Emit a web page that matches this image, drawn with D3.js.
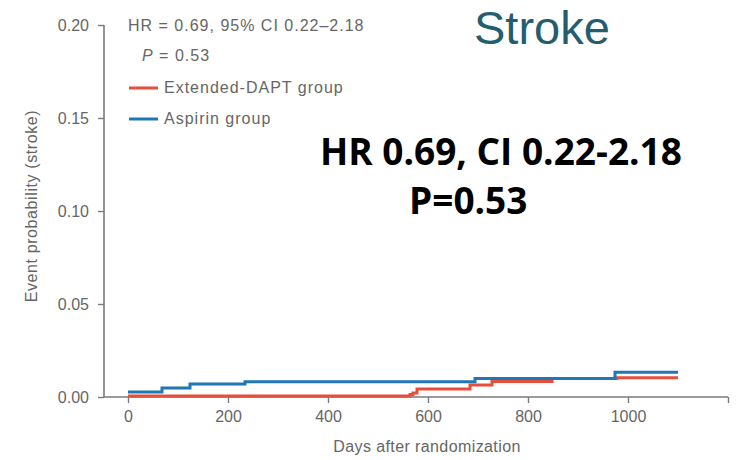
<!DOCTYPE html>
<html>
<head>
<meta charset="utf-8">
<script src="https://cdn.jsdelivr.net/npm/d3@7"></script>
<style>
  html, body { margin: 0; padding: 0; background: #fff; }
  svg { display: block; }
  text { font-family: "Liberation Sans", Arial, sans-serif; }
</style>
</head>
<body>
<svg id="chart" width="744" height="460"></svg>
<script>
// Kaplan–Meier style cumulative stroke probability, two treatment arms
const extendedDays = [0, 564, 570, 578, 684, 728, 848, 978, 1100];
const extendedRisk = [0.0006, 0.0013, 0.0022, 0.0043, 0.0065, 0.0083, 0.0099, 0.0104, 0.0104];

const aspirinDays = [0, 68, 124, 234, 694, 974, 1100];
const aspirinRisk = [0.0027, 0.0048, 0.0070, 0.0082, 0.0099, 0.0133, 0.0133];

const xTicks = [0, 200, 400, 600, 800, 1000, 1200];
const xTickLabels = ["0", "200", "400", "600", "800", "1000", ""];
const yTicks = [0, 0.05, 0.10, 0.15, 0.20];
const yTickLabels = ["0.00", "0.05", "0.10", "0.15", "0.20"];

const seriesNames = ["Extended-DAPT group", "Aspirin group"];
const seriesColors = ["#e64d3b", "#1f77b6"];

const svg = d3.select("#chart");
const axisColor = "#7a7a7a";
const labelColor = "#666";

const x = d3.scaleLinear().domain([0, 1200]).range([128, 728]);
const y = d3.scaleLinear().domain([0, 0.20]).range([397, 25]);

// y axis
const yAxis = d3.axisLeft(y).tickValues(yTicks)
  .tickFormat((d, i) => yTickLabels[i]).tickSize(6).tickPadding(9);
const gy = svg.append("g").attr("transform", "translate(104,0)").call(yAxis);
gy.select(".domain").attr("stroke", axisColor).attr("stroke-width", 1.6)
  .attr("d", `M0,${y(0.20)}V${y(0)}`);
gy.selectAll(".tick line").attr("stroke", axisColor).attr("stroke-width", 1.4);
gy.selectAll(".tick text").attr("fill", labelColor)
  .style("font-size", "16px").attr("font-family", null);

// x axis
const xAxis = d3.axisBottom(x).tickValues(xTicks)
  .tickFormat((d, i) => xTickLabels[i]).tickSize(6).tickPadding(8);
const gx = svg.append("g").attr("transform", `translate(0,${y(0)})`).call(xAxis);
gx.select(".domain").attr("stroke", axisColor).attr("stroke-width", 1.6)
  .attr("d", `M104,0H${x(1200)}`);
gx.selectAll(".tick line").attr("stroke", axisColor).attr("stroke-width", 1.4);
gx.selectAll(".tick text").attr("fill", labelColor)
  .style("font-size", "16px").attr("font-family", null);

// axis titles
svg.append("text")
  .attr("x", 427).attr("y", 452)
  .attr("text-anchor", "middle")
  .attr("fill", labelColor).style("font-size", "16px")
  .style("letter-spacing", "0.4px")
  .text("Days after randomization");

svg.append("text")
  .attr("transform", "translate(37,206) rotate(-90)")
  .attr("text-anchor", "middle")
  .attr("fill", labelColor).style("font-size", "16px")
  .style("letter-spacing", "0.6px")
  .text("Event probability (stroke)");

// step curves
const line = d3.line()
  .x(d => x(d[0]))
  .y(d => y(d[1]))
  .curve(d3.curveStepAfter);

const extendedPts = extendedDays.map((d, i) => [d, extendedRisk[i]]);
const aspirinPts = aspirinDays.map((d, i) => [d, aspirinRisk[i]]);

svg.append("path").datum(extendedPts)
  .attr("fill", "none").attr("stroke", seriesColors[0])
  .attr("stroke-width", 3).attr("d", line);
svg.append("path").datum(aspirinPts)
  .attr("fill", "none").attr("stroke", seriesColors[1])
  .attr("stroke-width", 3).attr("d", line);

// in-plot statistics and legend
svg.append("text")
  .attr("x", 128).attr("y", 31)
  .attr("fill", labelColor).style("font-size", "16px")
  .style("letter-spacing", "1px")
  .text("HR = 0.69, 95% CI 0.22\u20132.18");

const pText = svg.append("text")
  .attr("x", 142).attr("y", 61)
  .attr("fill", labelColor).style("font-size", "16px")
  .style("letter-spacing", "1px");
pText.append("tspan").style("font-style", "italic").text("P");
pText.append("tspan").text(" = 0.53");

const legendY = [88, 119];
seriesNames.forEach((name, i) => {
  svg.append("line")
    .attr("x1", 129).attr("x2", 158)
    .attr("y1", legendY[i]).attr("y2", legendY[i])
    .attr("stroke", seriesColors[i]).attr("stroke-width", 3);
  svg.append("text")
    .attr("x", 164).attr("y", legendY[i] + 5)
    .attr("fill", labelColor).style("font-size", "16px")
    .style("letter-spacing", "1px")
    .text(name);
});

// headline
svg.append("text")
  .attr("x", 474).attr("y", 44)
  .attr("fill", "#245d6e")
  .style("font-size", "47px")
  .text("Stroke");

svg.append("text")
  .attr("x", 320).attr("y", 165)
  .attr("fill", "#000")
  .style("font-family", "'Open Sans', sans-serif")
  .style("font-weight", "bold")
  .style("font-size", "37px")
  .text("HR 0.69, CI 0.22-2.18");

svg.append("text")
  .attr("x", 409).attr("y", 214)
  .attr("fill", "#000")
  .style("font-family", "'Open Sans', sans-serif")
  .style("font-weight", "bold")
  .style("font-size", "37px")
  .text("P=0.53");
</script>
</body>
</html>
